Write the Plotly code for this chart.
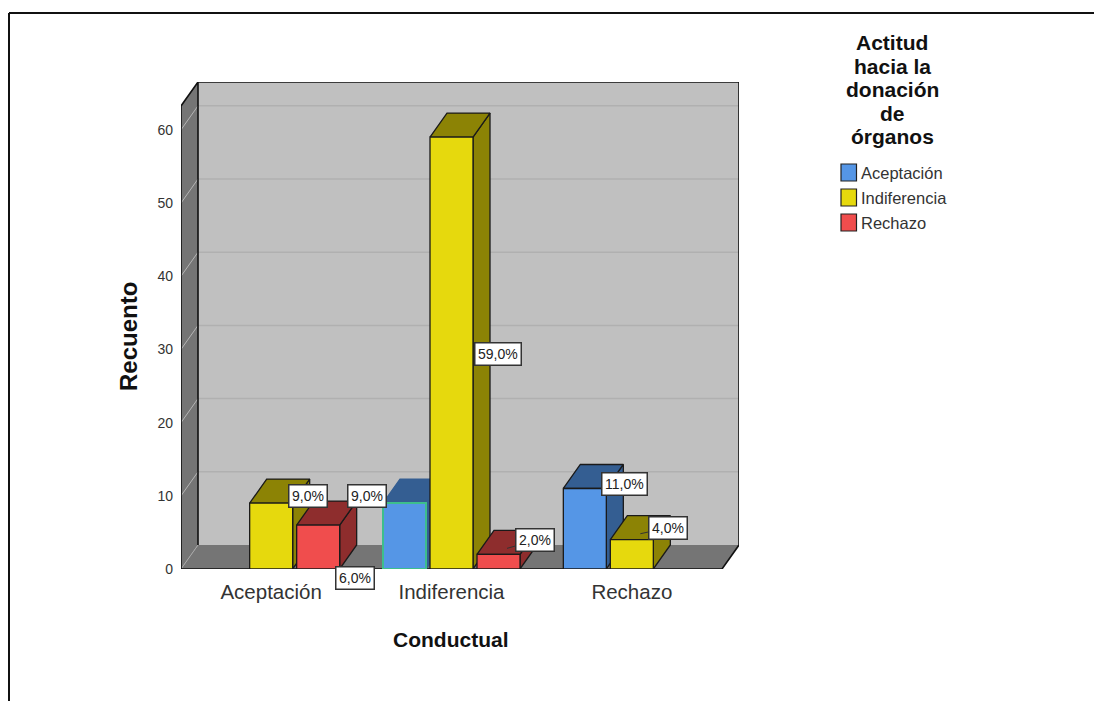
import plotly.graph_objects as go

# ---- data ----
categories = ["Aceptación", "Indiferencia", "Rechazo"]
series_names = ["Aceptación", "Indiferencia", "Rechazo"]
aceptacion = [None, 9, 11]
indiferencia = [9, 59, 4]
rechazo = [6, 2, None]
y_ticks = [0, 10, 20, 30, 40, 50, 60]
pct_aceptacion = [None, "9,0%", "11,0%"]
pct_indiferencia = ["9,0%", "59,0%", "4,0%"]
pct_rechazo = ["6,0%", "2,0%", None]
legend_title_lines = ["Actitud", "hacia la", "donación", "de", "órganos"]

# ---- style / layout ----
PAGE_MARGIN = 8                 # the page's own body margin
W, H = 1102, 701
EFF_H = H - PAGE_MARGIN
FONT = "Liberation Sans"
front_cols = ["#5596E6", "#E6D90D", "#F04D4D"]
dark_cols = ["#345E92", "#8C8305", "#8E2D2D"]
PLOT_L, PLOT_R, PLOT_T, PLOT_B = 181, 739, 82, 569
X_PX = (722 - 181) / 3          # px per category
Y_PX = 7.32                     # px per count
DX = 17 / X_PX                  # depth in x units
DY = 24 / Y_PX                  # depth in y units
X0, X1 = -0.5, 2.5
Y_TOP = (569 - 106) / Y_PX
SLOT = 47 / X_PX
BAR_W = 43 / X_PX
# label box offset from the top face of its bar: (series, category) -> px
label_offsets = {(1, 0): (28, -1), (0, 1): (-46, -1), (2, 0): (28, 59), (1, 1): (38, 223),
                 (2, 1): (28, -8), (0, 2): (31, 1.5), (1, 2): (28, -6)}
leader_lines = {(2, 1), (1, 2)}
selected_bar = (0, 1)

fig = go.Figure()


def poly(xs, ys, fill, line="#1a1a1a", width=1.3):
    fig.add_trace(go.Scatter(x=xs, y=ys, mode="lines", fill="toself" if fill else None,
                             fillcolor=fill, line=dict(color=line, width=width),
                             hoverinfo="skip", showlegend=False, cliponaxis=False))


# walls and floor
NONE = "rgba(0,0,0,0)"
poly([X0 + DX, X1 + DX, X1 + DX, X0 + DX, X0 + DX], [DY, DY, Y_TOP + DY, Y_TOP + DY, DY], "#C0C0C0", NONE, 0)
poly([X0, X0 + DX, X0 + DX, X0, X0], [0, DY, Y_TOP + DY, Y_TOP, 0], "#757575", NONE, 0)
poly([X0, X1, X1 + DX, X0 + DX, X0], [0, 0, DY, DY, 0], "#757575", NONE, 0)
for t in y_ticks[1:]:
    fig.add_trace(go.Scatter(x=[X0 + DX, X1 + DX], y=[t + DY, t + DY], mode="lines",
                             line=dict(color="#B0B0B0", width=1.5), hoverinfo="skip", showlegend=False))
    fig.add_trace(go.Scatter(x=[X0, X0 + DX], y=[t, t + DY], mode="lines",
                             line=dict(color="#B5B5B5", width=1), hoverinfo="skip", showlegend=False))
fig.add_trace(go.Scatter(x=[X0, X0 + DX], y=[0, DY], mode="lines",
                         line=dict(color="#A8A8A8", width=1), hoverinfo="skip", showlegend=False))
poly([X0 + DX, X0 + DX, X1 + DX, X1 + DX, X1, X0, X0, X0 + DX],
     [DY, Y_TOP + DY, Y_TOP + DY, DY, 0, 0, Y_TOP, Y_TOP + DY], None, "#111111", 1.6)

# bars, painted left to right
all_values = [aceptacion, indiferencia, rechazo]
all_pcts = [pct_aceptacion, pct_indiferencia, pct_rechazo]
annotations = []
for c in range(len(categories)):
    for s in range(len(series_names)):
        v = all_values[s][c]
        if v is None:
            continue
        cx = c + (s - 1) * SLOT
        l, r = cx - BAR_W / 2, cx + BAR_W / 2
        sel = (s, c) == selected_bar
        edge = dark_cols[s] if sel else "#1a1a1a"
        poly([r, r + DX, r + DX, r, r], [0, DY, v + DY, v, 0], dark_cols[s], edge)
        poly([l, r, r + DX, l + DX, l], [v, v, v + DY, v + DY, v], dark_cols[s], edge)
        poly([l, r, r, l, l], [0, 0, v, v, 0], front_cols[s],
             "#3DBE8C" if sel else "#1a1a1a", 2 if sel else 1.3)
        ox, oy = label_offsets[(s, c)]
        annotations.append(dict(
            x=cx + DX / 2, y=v + DY / 4, xref="x", yref="y", text=all_pcts[s][c],
            showarrow=True, axref="pixel", ayref="pixel", ax=ox, ay=oy, arrowhead=0,
            arrowwidth=1, arrowcolor="#333333" if (s, c) in leader_lines else NONE,
            bgcolor="#FFFFFF", bordercolor="#333333", borderwidth=1.5, borderpad=2.5,
            font=dict(family=FONT, size=14, color="#222222")))


def px(x):
    return (x - PAGE_MARGIN) / W


def py(y):
    return 1 - (y - PAGE_MARGIN) / EFF_H


def paper_text(x, y, text, size, color="#111111", xanchor="center", angle=0):
    annotations.append(dict(x=px(x), y=py(y), xref="paper", yref="paper", text=text, showarrow=False,
                            xanchor=xanchor, yanchor="middle", textangle=angle,
                            font=dict(family=FONT, size=size, color=color)))


# axis titles
paper_text(451, 639, "<b>Conductual</b>", 21)
paper_text(129, 337, "<b>Recuento</b>", 24, angle=-90)

# legend block
for i, line in enumerate(legend_title_lines):
    paper_text(892, 42.5 + i * 23.6, "<b>%s</b>" % line, 21)
shapes = []
for i, name in enumerate(series_names):
    yc = 172.5 + i * 25
    shapes.append(dict(type="rect", xref="paper", yref="paper", x0=px(841), x1=px(856.5),
                       y0=py(yc - 8.5), y1=py(yc + 8.5), fillcolor=front_cols[i],
                       line=dict(color="#222222", width=1.2)))
    paper_text(858.5, yc + 0.5, name, 16.5, color="#333333", xanchor="left")
# outer frame
shapes.append(dict(type="line", xref="paper", yref="paper", x0=px(9), x1=1, y0=py(13), y1=py(13),
                   line=dict(color="#111111", width=2)))
shapes.append(dict(type="line", xref="paper", yref="paper", x0=px(9), x1=px(9), y0=py(13), y1=0,
                   line=dict(color="#111111", width=2)))

fig.update_layout(
    width=W, height=H, margin=dict(l=0, r=0, t=0, b=0), autosize=False,
    paper_bgcolor="#FFFFFF", plot_bgcolor="#FFFFFF", showlegend=False,
    annotations=annotations, shapes=shapes,
    xaxis=dict(domain=[px(PLOT_L), px(PLOT_R)], range=[X0, X1 + DX], tickmode="array",
               tickvals=list(range(len(categories))), ticktext=categories, showgrid=False,
               zeroline=False, showline=False, ticks="", ticklabelstandoff=8,
               tickfont=dict(family=FONT, size=20.5, color="#333333")),
    yaxis=dict(domain=[py(PLOT_B), py(PLOT_T)], range=[0, Y_TOP + DY], tickmode="array",
               tickvals=y_ticks, showgrid=False, zeroline=False, showline=False, ticks="",
               ticklabelstandoff=7, tickfont=dict(family=FONT, size=14, color="#333333")),
)
fig.write_html("out.html")
